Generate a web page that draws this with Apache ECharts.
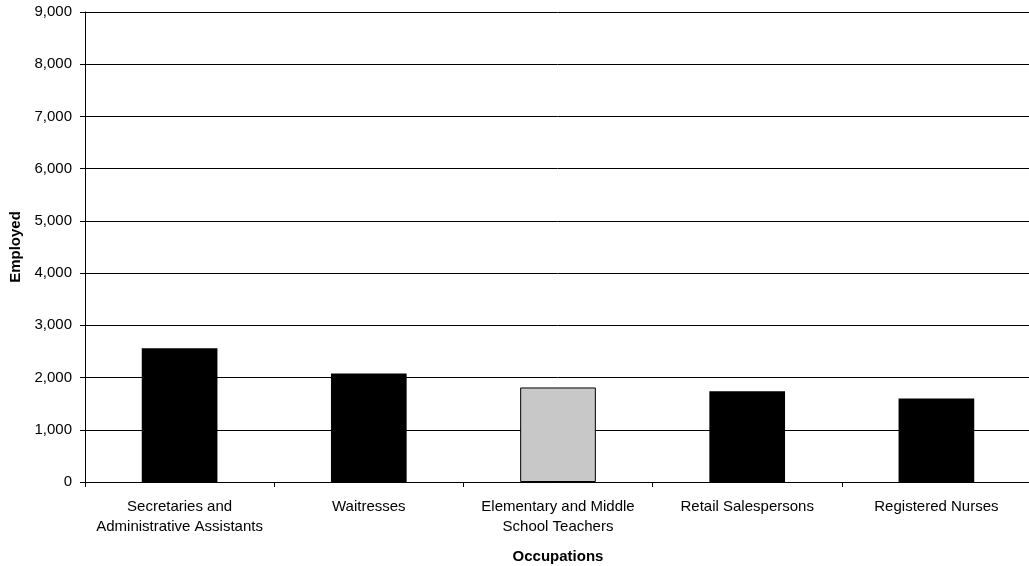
<!DOCTYPE html>
<html>
<head>
<meta charset="utf-8">
<script src="https://cdn.jsdelivr.net/npm/echarts@6/dist/echarts.min.js"></script>
<style>html,body{margin:0;padding:0;background:#fff;}#chart{width:1029px;height:566px;}</style>
</head>
<body>
<div id="chart"></div>
<script>
const categories = [
  "Secretaries and\nAdministrative Assistants",
  "Waitresses",
  "Elementary and Middle\nSchool Teachers",
  "Retail Salespersons",
  "Registered Nurses"
];
const employed = [2560, 2080, 1810, 1740, 1600];
const yTicks = [0, 1000, 2000, 3000, 4000, 5000, 6000, 7000, 8000, 9000];
const highlighted = "Elementary and Middle\nSchool Teachers";

const chart = echarts.init(document.getElementById('chart'));
const font = 'Liberation Sans, Arial, sans-serif';
chart.setOption({
  animation: false,
  backgroundColor: '#fff',
  grid: { left: 85, right: -2, top: 12, bottom: 84, containLabel: false, outerBoundsMode: 'none' },
  xAxis: {
    type: 'category',
    data: categories,
    name: 'Occupations',
    nameLocation: 'middle',
    nameGap: 67,
    nameTextStyle: { fontFamily: font, fontSize: 15, fontWeight: 'bold', color: '#000' },
    axisLine: { lineStyle: { color: '#000', width: 1 } },
    axisTick: { show: true, alignWithLabel: false, length: 5, lineStyle: { color: '#000' } },
    axisLabel: { fontFamily: font, fontSize: 15, color: '#000', margin: 15, lineHeight: 20, interval: 0 },
    splitLine: { show: false }
  },
  yAxis: {
    type: 'value',
    min: yTicks[0],
    max: yTicks[yTicks.length - 1],
    interval: yTicks[1] - yTicks[0],
    name: 'Employed',
    nameLocation: 'middle',
    nameGap: 61,
    nameRotate: 90,
    nameTextStyle: { fontFamily: font, fontSize: 15, fontWeight: 'bold', color: '#000' },
    axisLine: { show: true, lineStyle: { color: '#000', width: 1 } },
    axisTick: { show: true, length: 5, lineStyle: { color: '#000' } },
    axisLabel: {
      fontFamily: font, fontSize: 15, color: '#000', margin: 13,
      formatter: v => v.toLocaleString('en-US')
    },
    splitLine: { show: true, lineStyle: { color: '#000', width: 1 } }
  },
  series: [{
    type: 'bar',
    barWidth: '40%',
    data: employed.map((v, i) => ({
      value: v,
      itemStyle: categories[i] === highlighted
        ? { color: '#C8C8C8', borderColor: '#000', borderWidth: 1 }
        : { color: '#000' }
    }))
  }]
});
</script>
</body>
</html>
